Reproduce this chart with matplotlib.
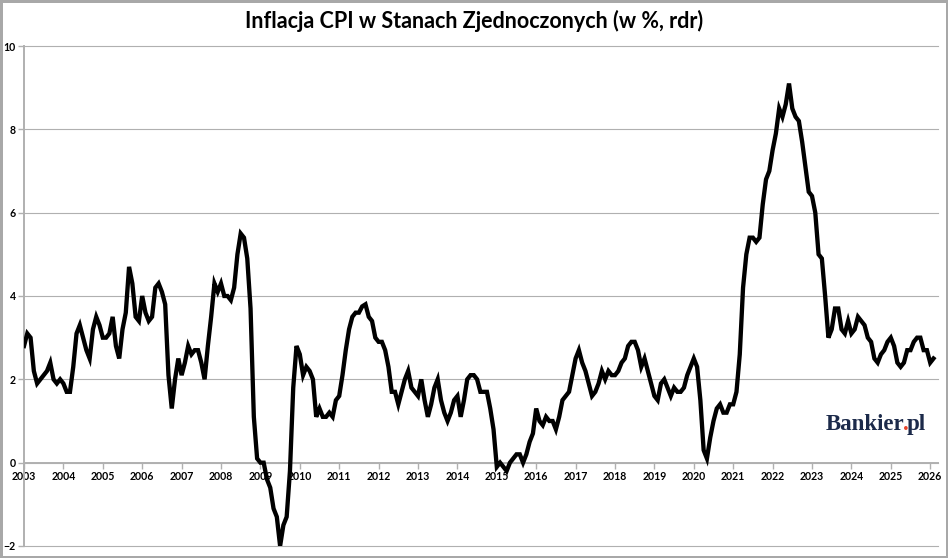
import numpy as np
import matplotlib
matplotlib.use('Agg')
import matplotlib.pyplot as plt

# CPI USA, r/r w %, miesiecznie od stycznia 2003
cpi_2003 = [2.8, 3.1, 3.0, 2.2, 1.9, 2.0, 2.1, 2.2, 2.4, 2.0, 1.9, 2.0]
cpi_2004 = [1.9, 1.7, 1.7, 2.3, 3.1, 3.3, 3.0, 2.7, 2.5, 3.2, 3.5, 3.3]
cpi_2005 = [3.0, 3.0, 3.1, 3.5, 2.8, 2.5, 3.2, 3.6, 4.7, 4.3, 3.5, 3.4]
cpi_2006 = [4.0, 3.6, 3.4, 3.5, 4.2, 4.3, 4.1, 3.8, 2.1, 1.3, 2.0, 2.5]
cpi_2007 = [2.1, 2.4, 2.8, 2.6, 2.7, 2.7, 2.4, 2.0, 2.8, 3.5, 4.3, 4.1]
cpi_2008 = [4.3, 4.0, 4.0, 3.9, 4.2, 5.0, 5.5, 5.4, 4.9, 3.7, 1.1, 0.1]
cpi_2009 = [0.0, 0.0, -0.4, -0.6, -1.1, -1.3, -2.0, -1.5, -1.3, -0.2, 1.8, 2.8]
cpi_2010 = [2.6, 2.1, 2.3, 2.2, 2.0, 1.1, 1.3, 1.1, 1.1, 1.2, 1.1, 1.5]
cpi_2011 = [1.6, 2.1, 2.7, 3.2, 3.5, 3.6, 3.6, 3.75, 3.8, 3.5, 3.4, 3.0]
cpi_2012 = [2.9, 2.9, 2.7, 2.3, 1.7, 1.7, 1.4, 1.7, 2.0, 2.2, 1.8, 1.7]
cpi_2013 = [1.6, 2.0, 1.5, 1.1, 1.4, 1.8, 2.0, 1.5, 1.2, 1.0, 1.2, 1.5]
cpi_2014 = [1.6, 1.1, 1.5, 2.0, 2.1, 2.1, 2.0, 1.7, 1.7, 1.7, 1.3, 0.8]
cpi_2015 = [-0.1, 0.0, -0.1, -0.2, 0.0, 0.1, 0.2, 0.2, 0.0, 0.2, 0.5, 0.7]
cpi_2016 = [1.3, 1.0, 0.9, 1.1, 1.0, 1.0, 0.8, 1.1, 1.5, 1.6, 1.7, 2.1]
cpi_2017 = [2.5, 2.7, 2.4, 2.2, 1.9, 1.6, 1.7, 1.9, 2.2, 2.0, 2.2, 2.1]
cpi_2018 = [2.1, 2.2, 2.4, 2.5, 2.8, 2.9, 2.9, 2.7, 2.3, 2.5, 2.2, 1.9]
cpi_2019 = [1.6, 1.5, 1.9, 2.0, 1.8, 1.6, 1.8, 1.7, 1.7, 1.8, 2.1, 2.3]
cpi_2020 = [2.5, 2.3, 1.5, 0.3, 0.1, 0.6, 1.0, 1.3, 1.4, 1.2, 1.2, 1.4]
cpi_2021 = [1.4, 1.7, 2.6, 4.2, 5.0, 5.4, 5.4, 5.3, 5.4, 6.2, 6.8, 7.0]
cpi_2022 = [7.5, 7.9, 8.5, 8.3, 8.6, 9.1, 8.5, 8.3, 8.2, 7.7, 7.1, 6.5]
cpi_2023 = [6.4, 6.0, 5.0, 4.9, 4.0, 3.0, 3.2, 3.7, 3.7, 3.2, 3.1, 3.4]
cpi_2024 = [3.1, 3.2, 3.5, 3.4, 3.3, 3.0, 2.9, 2.5, 2.4, 2.6, 2.7, 2.9]
cpi_2025 = [3.0, 2.8, 2.4, 2.3, 2.4, 2.7, 2.7, 2.9, 3.0, 3.0, 2.7, 2.7]
cpi_2026 = [2.4, 2.5]

years = list(range(2003, 2027))
yticks = [-2, 0, 2, 4, 6, 8, 10]
title = 'Inflacja CPI w Stanach Zjednoczonych (w %, rdr)'

cpi = np.array(cpi_2003 + cpi_2004 + cpi_2005 + cpi_2006 + cpi_2007 + cpi_2008 +
               cpi_2009 + cpi_2010 + cpi_2011 + cpi_2012 + cpi_2013 + cpi_2014 +
               cpi_2015 + cpi_2016 + cpi_2017 + cpi_2018 + cpi_2019 + cpi_2020 +
               cpi_2021 + cpi_2022 + cpi_2023 + cpi_2024 + cpi_2025 + cpi_2026)
tt = years[0] + np.arange(len(cpi))/12.

grey = '#b0b0b0'
W, H = 948., 558.

fig = plt.figure(figsize=(W/100., H/100.), dpi=100)
fig.patch.set_edgecolor('#a8a8a8') ; fig.patch.set_linewidth(2.5)

ax = fig.add_axes([24/W, 1-546/H, (938-24)/W, (546-46)/H])
ax.set_xlim(2003, 2003 + (938-24)/39.4)
ax.set_ylim(-2, 10)

ax.plot(tt, cpi, color='black', lw=3.1, solid_joinstyle='miter', zorder=5)

# osie w stylu excela
for s in ['top', 'right']:
    ax.spines[s].set_visible(False)
ax.spines['left'].set_color(grey) ; ax.spines['left'].set_linewidth(1.4)
ax.spines['bottom'].set_position(('data', 0))
ax.spines['bottom'].set_color(grey) ; ax.spines['bottom'].set_linewidth(1.4)

ax.set_yticks(yticks)
ax.set_xticks(years)
ax.tick_params(axis='both', direction='out', length=4, width=1.0, color=grey,
               labelsize=7.6, pad=2)
for lab in ax.get_xticklabels() + ax.get_yticklabels():
    lab.set_fontweight('bold') ; lab.set_family('Lato')

ax.yaxis.grid(True, color=grey, lw=0.8)
for gl in ax.get_ygridlines():
    gl.set_clip_on(False)
ax.set_axisbelow(True)

fig.text(0.5, 1-28.5/H, title, ha='center', va='baseline', fontsize=15.5,
         fontweight='bold', family='Lato')

# logo: Bankier + czerwona kropka + pl, kolejno obok siebie
renderer = fig.canvas.get_renderer()
xpos = 826.
for txt, col in [('Bankier', '#1c2a4a'), ('.', '#e8452c'), ('pl', '#1c2a4a')]:
    t = fig.text(xpos/W, 1-430/H, txt, family='Liberation Serif', weight='bold',
                 color=col, fontsize=16.5, va='baseline')
    xpos = t.get_window_extent(renderer).x1 - 2.

fig.savefig('out.png', dpi=100, facecolor='white',
            edgecolor=fig.get_edgecolor())
